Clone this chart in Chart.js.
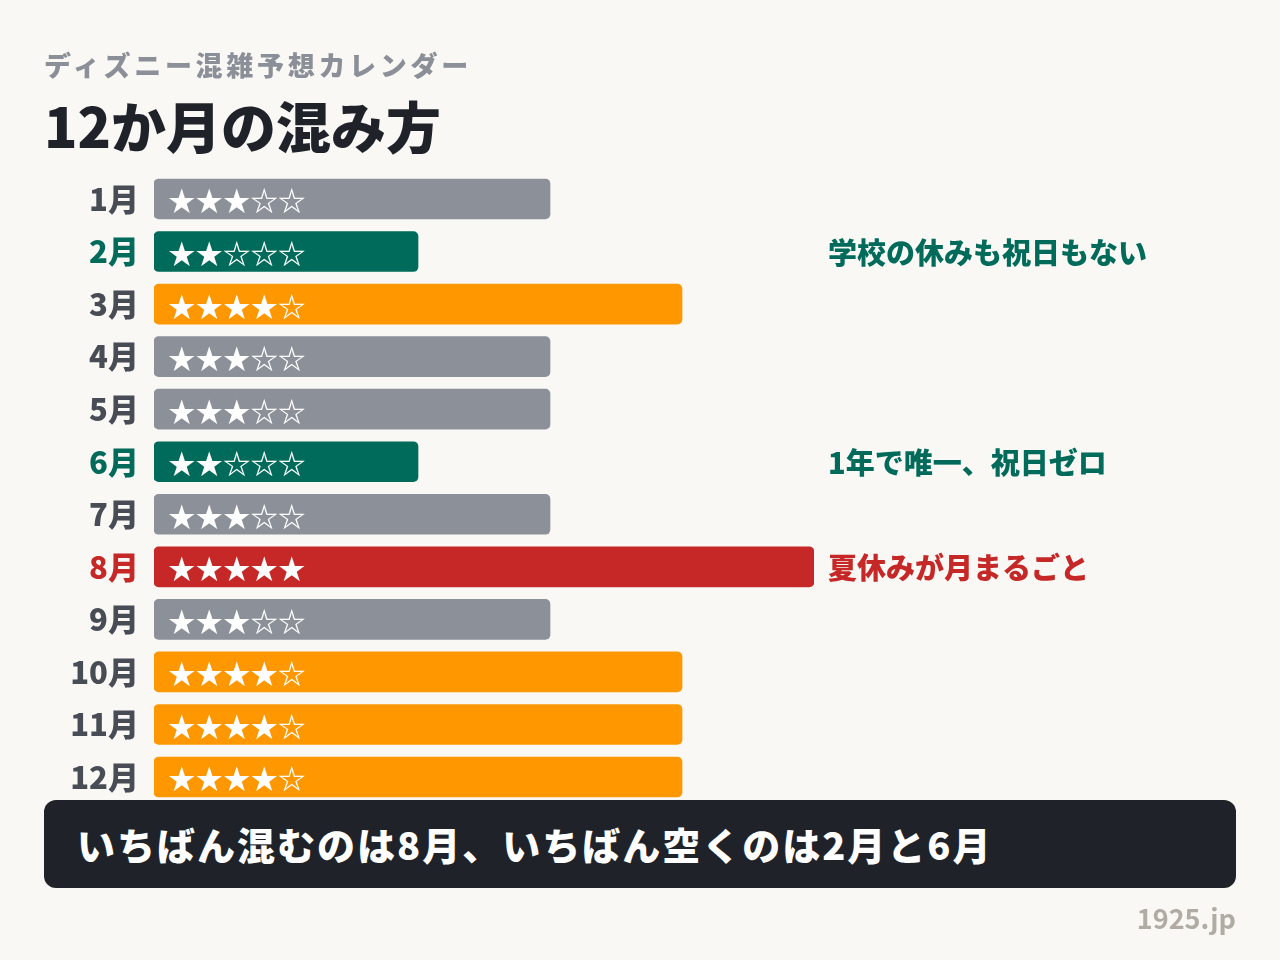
<!DOCTYPE html>
<html lang="ja">
<head>
<meta charset="utf-8">
<script src="https://cdn.jsdelivr.net/npm/chart.js@4"></script>
<style>
  html, body { margin: 0; padding: 0; background: #f9f8f4; }
  body { width: 1280px; height: 960px; position: relative; overflow: hidden;
         font-family: "Noto Sans CJK JP", "Noto Sans", sans-serif; }
  #chart { position: absolute; left: 0; top: 0; }
  .sub { position: absolute; left: 44px; top: 46px; font-size: 27px; font-weight: 900;
         color: #8b8f97; letter-spacing: 3.7px; line-height: 38px; }
  .title { position: absolute; left: 44px; top: 88px; font-size: 55px; font-weight: 900;
           color: #1f2329; line-height: 72px; }
  .summary { position: absolute; left: 44px; top: 800px; width: 1192px; height: 88px;
             background: #1f2329; border-radius: 12px; }
  .summary span { position: absolute; left: 33px; top: 20px; font-size: 38px; font-weight: 900;
                  color: #fff; line-height: 48px; letter-spacing: 2px; }
  .source { position: absolute; right: 44px; top: 898px; font-size: 27px; font-weight: 700;
            color: #b1aca3; line-height: 40px; }
</style>
</head>
<body>
<canvas id="chart" width="1280" height="960"></canvas>
<div class="sub">ディズニー混雑予想カレンダー</div>
<div class="title">12か月の混み方</div>
<div class="summary"><span>いちばん混むのは8月、いちばん空くのは2月と6月</span></div>
<div class="source">1925.jp</div>

<script>
// ── データ ──
const months = ['1月', '2月', '3月', '4月', '5月', '6月', '7月', '8月', '9月', '10月', '11月', '12月'];
const stars  = [3, 2, 4, 3, 3, 2, 3, 5, 3, 4, 4, 4];
const notes  = ['', '学校の休みも祝日もない', '', '', '', '1年で唯一、祝日ゼロ', '', '夏休みが月まるごと', '', '', '', ''];
const maxStars = 5;

// 混雑度ごとの色
const barColors   = { 2: '#006b5a', 3: '#8b9099', 4: '#ff9800', 5: '#c62828' };
const labelColors = { 2: '#006b5a', 3: '#484c55', 4: '#484c55', 5: '#c62828' };

const FONT = '"Noto Sans CJK JP", "Noto Sans", sans-serif';

// 星とコメントを描くプラグイン
const starsPlugin = {
  id: 'stars',
  afterDatasetsDraw(chart) {
    const ctx = chart.ctx;
    const meta = chart.getDatasetMeta(0);
    const xScale = chart.scales.x;
    ctx.save();
    ctx.textBaseline = 'middle';
    meta.data.forEach((bar, i) => {
      const n = stars[i];
      const s = '★'.repeat(n) + '☆'.repeat(maxStars - n);
      ctx.font = `700 27.5px ${FONT}`;
      ctx.fillStyle = '#ffffff';
      ctx.textAlign = 'left';
      ctx.fillText(s, bar.base + 14, bar.y + 2);

      if (notes[i]) {
        ctx.font = `900 29px ${FONT}`;
        ctx.fillStyle = labelColors[n];
        ctx.fillText(notes[i], xScale.getPixelForValue(maxStars) + 14, bar.y + 1);
      }
    });
    ctx.restore();
  }
};

new Chart(document.getElementById('chart'), {
  type: 'bar',
  data: {
    labels: months,
    datasets: [{
      data: stars,
      backgroundColor: stars.map(v => barColors[v]),
      borderRadius: 5,
      borderSkipped: false,
      barThickness: 40,
    }],
  },
  options: {
    indexAxis: 'y',
    responsive: false,
    animation: false,
    layout: { padding: { left: 0, top: 172.7, right: 466, bottom: 156.7 } },
    plugins: { legend: { display: false }, tooltip: { enabled: false } },
    scales: {
      x: {
        display: false,
        min: 0,
        max: maxStars,
      },
      y: {
        afterFit: (scale) => { scale.width = 154; },
        grid: { display: false },
        border: { display: false },
        ticks: {
          padding: 7,
          font: { family: FONT, size: 31, weight: 900 },
          color: (c) => labelColors[stars[c.index]],
        },
      },
    },
  },
  plugins: [starsPlugin],
});
</script>
</body>
</html>
